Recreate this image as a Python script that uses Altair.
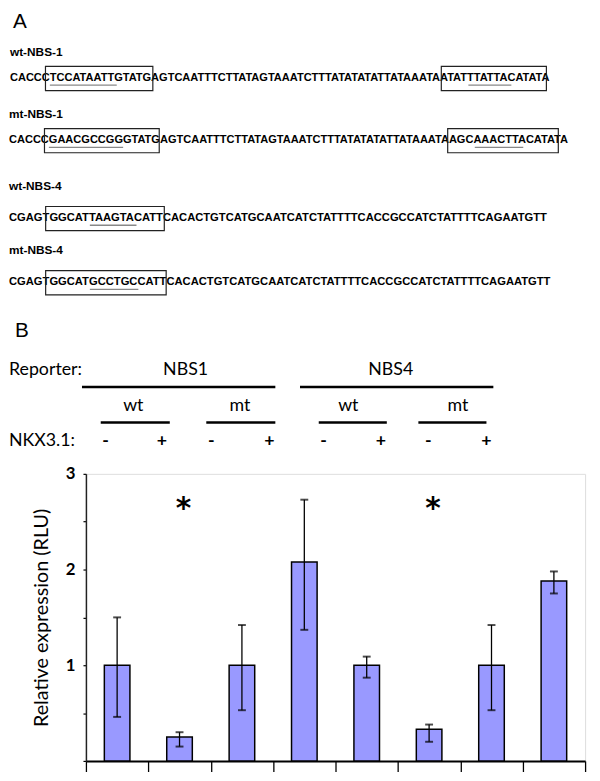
import altair as alt
import pandas as pd

# ---------------- data ----------------
reporters = ["NBS1", "NBS1", "NBS1", "NBS1", "NBS4", "NBS4", "NBS4", "NBS4"]
variants = ["wt", "wt", "mt", "mt", "wt", "wt", "mt", "mt"]
nkx = ["-", "+", "-", "+", "-", "+", "-", "+"]
values = [1.0, 0.25, 1.0, 2.08, 1.0, 0.33, 1.0, 1.88]
err_lo = [0.46, 0.15, 0.53, 1.37, 0.87, 0.20, 0.53, 1.75]
err_hi = [1.50, 0.30, 1.42, 2.73, 1.09, 0.38, 1.42, 1.98]
star_idx = [1, 5]
star_level = [2.7, 2.7]
y_ticks = [0, 0.5, 1, 1.5, 2, 2.5, 3]

seq_names = ["wt-NBS-1", "mt-NBS-1", "wt-NBS-4", "mt-NBS-4"]
sequences = [
    "CACCCTCCATAATTGTATGAGTCAATTTCTTATAGTAAATCTTTATATATATTATAAATAATATTTATTACATATA",
    "CACCCGAACGCCGGGTATGAGTCAATTTCTTATAGTAAATCTTTATATATATTATAAATAAGCAAACTTACATATA",
    "CGAGTGGCATTAAGTACATTCACACTGTCATGCAATCATCTATTTTCACCGCCATCTATTTTCAGAATGTT",
    "CGAGTGGCATGCCTGCCATTCACACTGTCATGCAATCATCTATTTTCACCGCCATCTATTTTCAGAATGTT",
]
# boxed sites (sequence index, first char, last char) and underlined cores
boxed = [(0, 4, 18), (0, 57, 71), (1, 4, 18), (1, 57, 71), (2, 4, 19), (3, 4, 19)]
underlined = [(0, 5, 13), (0, 61, 66), (1, 5, 13), (1, 61, 66), (2, 10, 15), (3, 10, 15)]

# ---------------- layout (pixels on page) ----------------
OX, OY = 87, 475          # plot origin on the page
PW, PH = 506, 291         # plot area

def px(X):
    return X - OX

def py(Y):
    return Y - OY

one = pd.DataFrame({"k": [0]})

def label(txt, X, Y, size, font, weight="normal", align="left", color="black"):
    return alt.Chart(one).mark_text(
        text=txt, font=font, fontSize=size, fontWeight=weight, align=align,
        baseline="middle", color=color,
    ).encode(x=alt.value(px(X)), y=alt.value(py(Y)))

def hline(X1, X2, Y, width=1.0, color="black"):
    return alt.Chart(one).mark_rule(color=color, strokeWidth=width).encode(
        x=alt.value(px(X1)), x2=alt.value(px(X2)), y=alt.value(py(Y))
    )

def box(X1, X2, Y1, Y2):
    return alt.Chart(one).mark_rect(
        fillOpacity=0, stroke="#222222", strokeWidth=1.2
    ).encode(
        x=alt.value(px(X1)), x2=alt.value(px(X2)),
        y=alt.value(py(Y1)), y2=alt.value(py(Y2)),
    )

ARIAL = "Liberation Sans, Arial, sans-serif"
CAL = "Lato, Noto Sans, sans-serif"

# Arial/Liberation Sans Bold advance widths (per 1000 em)
CW = {"A": 722, "C": 722, "G": 778, "T": 611}

layers = []

# ---- panel A ----
layers.append(label("A", 13, 17, 21, ARIAL))
name_pos = [(10, 47), (9, 110), (9, 183), (9, 248)]
seq_pos = [(10, 74, 11.2), (9, 137, 11.2), (9, 216, 11.35), (9, 281, 11.35)]
for nm, (nx, ny) in zip(seq_names, name_pos):
    layers.append(label(nm, nx, ny, 12, ARIAL, "bold"))
for s, (sx, sy, fs) in zip(sequences, seq_pos):
    layers.append(label(s, sx, sy, fs, ARIAL, "bold"))

def char_x(k, idx):
    s = sequences[k]
    x0, _, fs = seq_pos[k]
    return x0 + sum(CW[c] for c in s[:idx]) * fs / 1000.0

def char_w(k, idx):
    return CW[sequences[k][idx]] * seq_pos[k][2] / 1000.0

for k, a, b in boxed:
    cy = seq_pos[k][1]
    x1 = char_x(k, a) + 0.45 * char_w(k, a)
    x2 = char_x(k, b) + 0.7 * char_w(k, b)
    layers.append(box(x1, x2, cy - 12, cy + 12.5))
for k, a, b in underlined:
    cy = seq_pos[k][1]
    layers.append(hline(char_x(k, a), char_x(k, b + 1), cy + 7, 1.3, "#888888"))

# ---- panel B header ----
layers.append(label("B", 15, 330, 21, ARIAL))
layers.append(label("Reporter:", 9, 370, 18, CAL))
layers.append(label("NKX3.1:", 9, 442, 18, CAL))
group_x = {"NBS1": 188, "NBS4": 396}
for g, gx in group_x.items():
    layers.append(label(g, gx, 370, 18, CAL, align="center"))
for (a, b) in [(83, 279), (304, 500)]:
    layers.append(hline(a, b, 387, 2.5))
sub_x = [135, 243, 353, 464]
sub_lines = [(102, 172), (209, 279), (323, 392), (424, 493)]
for k, sx in enumerate(sub_x):
    layers.append(label(variants[2 * k], sx, 406, 18, CAL, align="center"))
    layers.append(hline(sub_lines[k][0], sub_lines[k][1], 423, 2.5))
sign_x = [107, 164, 214, 273, 328, 386, 434, 493]
for k, sx in enumerate(sign_x):
    layers.append(label(nkx[k], sx, 442, 18, CAL, "bold", align="center"))

# ---------------- bar chart ----------------
df = pd.DataFrame({
    "i": list(range(8)),
    "reporter": reporters, "variant": variants, "nkx": nkx,
    "value": values, "lo": err_lo, "hi": err_hi,
})
df["x0"] = df["i"] + 0.295
df["x1"] = df["i"] + 0.705
df["xc"] = df["i"] + 0.5
df["zero"] = 0.0

xs = alt.Scale(domain=[0, 8], nice=False, zero=False)
ys = alt.Scale(domain=[0, 3], nice=False)

xaxis = alt.Axis(values=list(range(9)), labels=False, title=None, tickSize=11,
                 tickWidth=1.3, tickColor="black", domainColor="black",
                 domainWidth=2, grid=False)
yaxis = alt.Axis(values=y_ticks,
                 labelExpr="(datum.value == 1 || datum.value == 2 || datum.value == 3) ? toString(datum.value) : ''",
                 tickSize=3, tickColor="black", tickWidth=1.2,
                 domainColor="#222222", domainWidth=1.5,
                 labelFont=CAL, labelFontSize=17, labelFontWeight="bold",
                 labelColor="black", labelPadding=8,
                 title="Relative expression (RLU)", titleFont=CAL,
                 titleFontSize=20, titleFontWeight="normal", titleColor="black",
                 titlePadding=14, grid=False)

base = alt.Chart(df)
bars = base.mark_rect(fill="#9999ff", stroke="black", strokeWidth=1.5).encode(
    x=alt.X("x0:Q", scale=xs, axis=xaxis),
    x2="x1:Q",
    y=alt.Y("value:Q", scale=ys, axis=yaxis),
    y2="zero:Q",
)
err = base.mark_rule(color="black", strokeWidth=1.3).encode(
    x=alt.X("xc:Q", scale=xs), y=alt.Y("lo:Q", scale=ys), y2="hi:Q"
)
cap_lo = base.mark_tick(orient="horizontal", size=8, thickness=2, color="black").encode(
    x=alt.X("xc:Q", scale=xs), y=alt.Y("lo:Q", scale=ys)
)
cap_hi = base.mark_tick(orient="horizontal", size=8, thickness=2, color="black").encode(
    x=alt.X("xc:Q", scale=xs), y=alt.Y("hi:Q", scale=ys)
)
stars_df = pd.DataFrame({"i": star_idx, "level": star_level})
stars_df["xc"] = stars_df["i"] + 0.5
stars = alt.Chart(stars_df).mark_text(
    text="*", font="DejaVu Sans, sans-serif", fontSize=30, fontWeight="bold",
    dx=4, dy=7, baseline="middle"
).encode(x=alt.X("xc:Q", scale=xs), y=alt.Y("level:Q", scale=ys))

chart = alt.layer(bars, err, cap_lo, cap_hi, stars, *layers).properties(
    width=PW, height=PH,
    padding={"left": OX - 8, "top": OY - 8, "right": 7, "bottom": 6},
    autosize=alt.AutoSizeParams(type="none"),
).configure_view(stroke=None).configure(background="white")

chart.save("out.html", embed_options={"renderer": "svg", "actions": False})
